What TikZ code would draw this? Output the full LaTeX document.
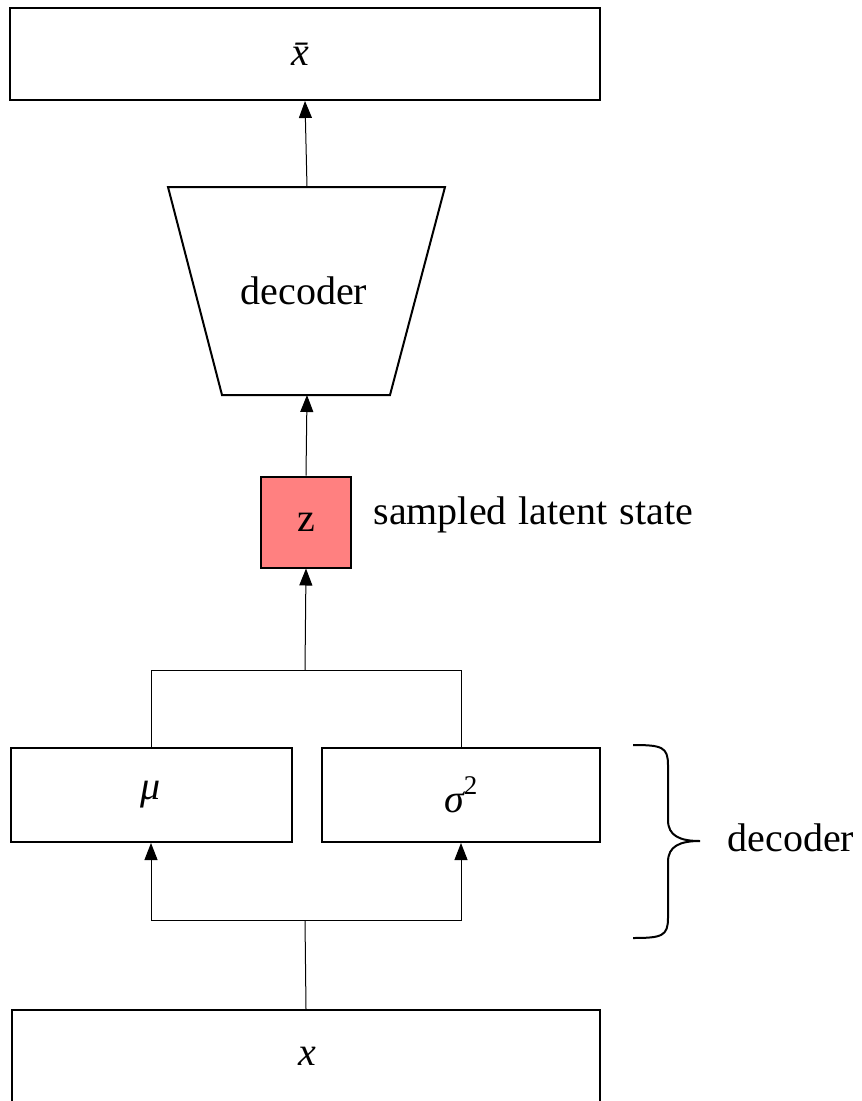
\documentclass[tikz,border=0pt]{standalone}
\usepackage{fontspec}
\setmainfont{Liberation Serif}
\usetikzlibrary{arrows.meta}
\definecolor{zred}{RGB}{255,128,128}
\begin{document}
\begin{tikzpicture}[x=1pt,y=-1pt,
  box/.style={draw,line width=2pt,inner sep=0pt},
  conn/.style={line width=1pt},
  arr/.style={conn,-{Triangle[length=17pt,width=13pt]}},
  txt/.style={font=\fontsize{40}{46}\selectfont}]
\clip (0,0) rectangle (862,1101);
\fill[white] (0,0) rectangle (862,1101);
% boxes
\node[box,txt,minimum width=590pt,minimum height=92pt] (xbar) at (305,54) {\textit{\=x}};
\draw[line width=2pt] (168,187) -- (445,187) -- (390,395) -- (222,395) -- cycle;
\node[txt] (dec) at (304,291) {decoder};
\coordinate (dect) at (307,187);
\coordinate (decb) at (307,395);
\node[box,txt,fill=zred,minimum width=90pt,minimum height=91pt] (z) at (306,522) {z};
\node[txt,anchor=west] (samp) at (370,515) {sampled\hspace{0.3em}latent\hspace{0.3em}state};
\node[box,txt,minimum width=281pt,minimum height=94pt] (mu) at (151,795) {\textit{μ}};
\node[box,txt,minimum width=278pt,minimum height=94pt] (sig) at (461,795) {\textit{σ}\hspace{-0.05em}\raisebox{0.45em}{\fontsize{27}{30}\selectfont 2}};
\node[box,txt,minimum width=588pt,minimum height=120pt] (x) at (306,1070) {};
\node[txt] (xl) at (307,1056) {\textit{x}};
% connectors
\draw[arr] (dect) -- (xbar.south);
\draw[arr] (z.north) -- (decb);
\coordinate (j1) at (305,670);
\draw[conn] (mu.north) -- (mu.north |- j1) -- (sig.north |- j1) -- (sig.north);
\draw[arr] (j1) -- (z.south);
\coordinate (j2) at (305,920);
\draw[conn] (x.north) -- (j2);
\draw[arr] (j2) -- (j2 -| mu.south) -- (mu.south);
\draw[arr] (j2) -- (j2 -| sig.south) -- (sig.south);
% brace
\draw[line width=2pt] (633,745) .. controls (662,745) and (668,747) .. (668,765)
  -- (668,820) .. controls (668,836) and (680,841) .. (700,841)
  .. controls (680,841) and (668,846) .. (668,862)
  -- (668,918) .. controls (668,936) and (662,938) .. (633,938);
\node[txt,anchor=west] (declbl) at (724,838) {decoder};
\end{tikzpicture}
\end{document}
